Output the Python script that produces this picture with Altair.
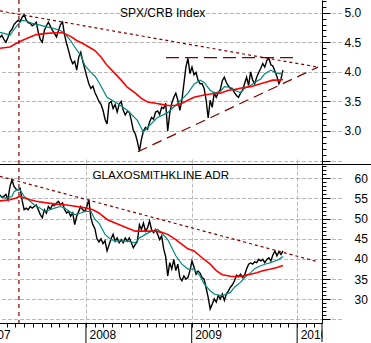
import altair as alt
import pandas as pd

START = "2007-03-09"          # first weekly observation
FONT = "Liberation Sans"

# ---- SPX/CRB ratio, weekly from START ----
spx_price = [4.58, 4.62, 4.55, 4.50, 4.58, 4.68, 4.72, 4.80, 4.84, 4.87,
             4.85, 4.92, 4.97, 4.88, 4.83, 4.82, 4.78, 4.80, 4.84, 4.67,
             4.55, 4.50, 4.70, 4.78, 4.84, 4.77, 4.70, 4.65, 4.59, 4.70,
             4.80, 4.84, 4.62, 4.48, 4.36, 4.22, 4.14, 4.18, 4.03, 4.25,
             4.33, 4.18, 4.05, 3.92, 3.80, 3.72, 3.76, 3.65, 3.58, 3.50,
             3.45, 3.35, 3.20, 3.12, 3.47, 3.50, 3.38, 3.45, 3.32, 3.45,
             3.50, 3.35, 3.27, 3.33, 3.32, 3.18, 3.01, 2.95, 2.82, 2.66,
             2.86, 3.00, 3.06, 3.03, 3.15, 3.23, 3.20, 3.32, 3.34, 3.28,
             3.40, 3.38, 3.47, 3.00, 3.30, 3.47, 3.57, 3.64, 3.52, 3.35,
             3.52, 3.80, 4.08, 4.23, 3.97, 4.08, 3.95, 3.99, 3.86, 3.80,
             3.80, 3.72, 3.52, 3.22, 3.52, 3.40, 3.64, 3.57, 3.65, 3.70,
             3.85, 3.91, 3.82, 3.76, 3.72, 3.72, 3.65, 3.60, 3.57, 3.64,
             3.69, 3.80, 3.91, 3.77, 4.00, 3.86, 3.80, 3.91, 3.99, 4.06,
             4.14, 4.08, 4.19, 4.23, 4.12, 4.10, 4.01, 3.92, 3.80, 3.88,
             4.03]
spx_fast_wk = [0, 2, 5, 6, 8, 10, 11, 13, 16, 20, 23, 26, 30, 32, 35, 37, 40, 42, 45, 47,
               49, 53, 58, 63, 68, 71, 73, 78, 83, 88, 93, 96, 99, 101, 104, 106, 109, 111, 114, 116,
               119, 121, 124, 126, 129, 131, 134, 136, 138, 140]
spx_fast = [4.67, 4.65, 4.62, 4.67, 4.76, 4.84, 4.87, 4.86, 4.82, 4.79, 4.76, 4.74, 4.70, 4.65, 4.53, 4.42, 4.28, 4.11, 3.99, 3.93,
            3.82, 3.57, 3.47, 3.35, 3.18, 2.98, 3.06, 3.23, 3.31, 3.47, 3.64, 3.79, 3.86, 3.82, 3.69, 3.64, 3.67, 3.75, 3.74, 3.69,
            3.65, 3.72, 3.77, 3.82, 3.88, 3.97, 4.03, 3.99, 3.97, 3.97]
spx_slow_wk = [0, 5, 8, 11, 15, 18, 23, 28, 31, 35, 38, 41, 45, 47, 50, 53, 57, 60, 63, 67,
               70, 73, 77, 80, 83, 87, 90, 93, 96, 101, 105, 109, 113, 116, 120, 124, 128, 131, 135, 138, 140]
spx_slow = [4.40, 4.42, 4.48, 4.53, 4.59, 4.63, 4.65, 4.66, 4.66, 4.60, 4.53, 4.48, 4.40, 4.36, 4.25, 4.11, 3.97, 3.86, 3.74, 3.64,
            3.55, 3.49, 3.47, 3.45, 3.43, 3.43, 3.47, 3.52, 3.57, 3.61, 3.63, 3.64, 3.69, 3.70, 3.73, 3.75, 3.79, 3.82, 3.86, 3.86, 3.87]

# ---- GlaxoSmithKline ADR, weekly from START ----
gsk_price = [55.9, 55.3, 55.6, 56.0, 54.7, 58.0, 59.6, 58.0, 57.3, 57.1,
             57.5, 54.5, 52.2, 52.6, 52.2, 53.0, 52.6, 53.0, 53.4, 52.2,
             51.0, 50.2, 52.2, 51.4, 53.0, 52.4, 53.4, 53.2, 53.9, 54.3,
             53.4, 53.9, 52.2, 51.4, 51.8, 50.6, 51.4, 48.5, 50.6, 51.8,
             53.0, 52.2, 51.8, 53.0, 54.7, 50.2, 48.5, 47.5, 45.0, 44.2,
             45.0, 43.8, 44.5, 42.0, 43.5, 45.0, 46.1, 44.4, 45.2, 44.0,
             44.8, 44.0, 45.2, 44.4, 45.2, 44.0, 42.8, 43.6, 44.4, 48.5,
             47.3, 48.9, 46.9, 47.7, 49.4, 47.3, 46.5, 47.3, 46.1, 44.8,
             45.7, 42.5, 40.5, 35.8, 39.1, 37.5, 39.9, 37.1, 38.7, 35.4,
             34.6, 35.8, 35.0, 35.4, 37.1, 39.5, 38.0, 36.2, 37.0, 36.5,
             35.4, 35.0, 32.8, 30.5, 27.6, 28.8, 30.1, 29.3, 30.9, 30.1,
             31.3, 29.7, 31.3, 32.1, 33.0, 33.6, 34.6, 36.0, 35.6, 36.2,
             35.4, 36.0, 37.5, 38.7, 39.0, 38.7, 39.3, 39.1, 39.9, 39.5,
             39.9, 39.1, 39.9, 40.3, 39.5, 41.0, 42.0, 40.8, 41.8, 41.1,
             42.0]
gsk_fast_wk = [0, 3, 6, 7, 9, 10, 12, 15, 17, 20, 22, 25, 27, 30, 32, 35, 37, 40, 42, 45,
               47, 49, 52, 55, 58, 63, 67, 69, 72, 75, 78, 80, 83, 87, 90, 93, 96, 99, 101, 104,
               106, 109, 111, 114, 116, 119, 121, 124, 126, 129, 131, 134, 136, 138, 140]
gsk_fast = [55.5, 55.1, 55.5, 56.7, 57.3, 57.1, 55.5, 54.3, 53.4, 52.6, 51.8, 52.2, 52.6, 53.0, 52.6, 51.6, 51.0, 51.4, 51.8, 51.8,
            49.8, 48.9, 46.1, 44.8, 44.4, 44.4, 44.0, 45.2, 46.1, 46.9, 47.3, 46.5, 44.8, 40.8, 38.7, 37.5, 37.5, 35.8, 33.8, 32.1,
            31.3, 30.9, 31.1, 31.7, 33.0, 34.2, 35.4, 36.6, 37.6, 38.3, 38.7, 39.1, 39.5, 39.9, 40.6]
gsk_slow_wk = [0, 5, 8, 10, 11, 15, 18, 23, 28, 33, 38, 43, 46, 49, 53, 57, 60, 63, 67, 70,
               73, 77, 80, 83, 87, 90, 93, 96, 100, 104, 107, 110, 114, 117, 120, 124, 127, 130, 134, 137, 140]
gsk_slow = [54.4, 54.7, 55.1, 55.5, 55.3, 54.7, 54.3, 53.9, 53.6, 53.4, 53.0, 52.6, 52.2, 51.4, 49.8, 48.9, 48.3, 47.7, 46.9, 46.9,
            46.9, 46.9, 46.6, 46.1, 44.8, 43.6, 42.5, 42.0, 40.3, 38.7, 37.1, 36.1, 35.7, 35.6, 35.8, 36.2, 36.6, 37.1, 37.5, 37.9, 38.4]

# ---- trend lines and markers ----
spx_down_dates, spx_down_vals = ["2007-03-09", "2010-03-14"], [5.03, 4.08]
spx_up_dates, spx_up_vals = ["2008-06-29", "2010-03-14"], [2.65, 4.08]
spx_flat_dates, spx_flat_vals = ["2008-10-04", "2009-12-28"], [4.24, 4.24]
gsk_down_dates, gsk_down_vals = ["2007-03-09", "2010-03-14"], [60.5, 39.3]
event_dates = ["2007-05-14"]
year_starts = ["2007-01-01", "2008-01-01", "2009-01-01", "2010-01-01"]
titles = ["SPX/CRB Index", "GLAXOSMITHKLINE ADR"]

spx_ticks = [round(2.5 + 0.1 * i, 1) for i in range(28)]
gsk_ticks = list(range(25, 64))
month_ticks = [alt.DateTime(year=y, month=m, date=1, utc=True)
               for y in range(2007, 2011) for m in range(1, 13) if (y, m) <= (2010, 3)]


def wk_dates(weeks):
    base = pd.Timestamp(START)
    return [(base + pd.Timedelta(days=7 * w)).strftime("%Y-%m-%d") for w in weeks]


def frame(dates, vals):
    return pd.DataFrame({"date": dates, "v": vals})


GRID = "#b8b8b8"
xscale = alt.Scale(type="utc",
                   domain=[alt.DateTime(year=2007, month=1, date=1, utc=True),
                           alt.DateTime(year=2010, month=3, date=28, utc=True)],
                   range=[-19.5, 322], nice=False)
xaxis = alt.Axis(values=month_ticks, tickSize=4, tickColor="black", domainColor="black",
                 labelExpr="utcmonth(datum.value) == 0 ? utcFormat(datum.value, '%Y') : ''",
                 labelAlign="left", labelBaseline="top", labelPadding=2, labelOffset=3,
                 labelFont=FONT, labelFontSize=12, labelColor="black",
                 labelFlush=False, labelOverlap=False,
                 grid=True, gridColor=GRID, gridDash=[4, 2],
                 gridOpacity={"condition": {"test": "utcmonth(datum.value) == 0", "value": 1}, "value": 0},
                 title=None, zindex=0)


def X():
    return alt.X("date:T", scale=xscale, axis=xaxis, title=None)


top_scale = alt.Scale(domain=[2.442, 5.215], range=[164, 0], nice=False, zero=False)
bot_scale = alt.Scale(domain=[24.12, 63.3], range=[323, 165], nice=False, zero=False)

top_major = "abs(datum.value * 2 - round(datum.value * 2)) < 0.01"
bot_major = "datum.value % 5 == 0"
top_axis = alt.Axis(orient="right", values=spx_ticks, title=None,
                    tickSize={"condition": {"test": top_major, "value": 8}, "value": 4},
                    tickColor="black", domainColor="black",
                    labelExpr="(" + top_major + ") && datum.value > 2.7 ? format(datum.value, '.1f') : ''",
                    labelAlign="left", labelBaseline="middle", labelPadding=14,
                    labelFont=FONT, labelFontSize=12, labelColor="black",
                    labelOverlap=False, labelFlush=False,
                    grid=True, gridColor=GRID, gridDash=[4, 2],
                    gridOpacity={"condition": {"test": top_major, "value": 1}, "value": 0},
                    zindex=0)
bot_axis = alt.Axis(orient="right", values=gsk_ticks, title=None,
                    tickSize={"condition": {"test": bot_major, "value": 8}, "value": 4},
                    tickColor="black", domainColor="black",
                    labelExpr="(" + bot_major + ") && datum.value > 27 ? format(datum.value, 'd') : ''",
                    labelAlign="left", labelBaseline="middle", labelPadding=24,
                    labelFont=FONT, labelFontSize=12, labelColor="black",
                    labelOverlap=False, labelFlush=False,
                    grid=True, gridColor=GRID, gridDash=[4, 2],
                    gridOpacity={"condition": {"test": bot_major, "value": 1}, "value": 0},
                    zindex=0)


def line(df, scale, color, width, dash=None, axis=None):
    kw = dict(color=color, strokeWidth=width)
    if dash is not None:
        kw["strokeDash"] = dash
    return alt.Chart(df).mark_line(**kw).encode(
        x=X(), y=alt.Y("v:Q", scale=scale, axis=axis, title=None))


DARKRED = "#800000"
layers = [
    line(frame(wk_dates(range(len(spx_price))), spx_price), top_scale, "black", 1.4, axis=top_axis),
    line(frame(wk_dates(spx_fast_wk), spx_fast), top_scale, "#00897b", 1.2),
    line(frame(wk_dates(spx_slow_wk), spx_slow), top_scale, "#ff0000", 1.6),
    line(frame(spx_down_dates, spx_down_vals), top_scale, DARKRED, 1.2, dash=[3, 3]),
    line(frame(spx_up_dates, spx_up_vals), top_scale, DARKRED, 1.2, dash=[10, 6]),
    line(frame(spx_flat_dates, spx_flat_vals), top_scale, DARKRED, 1.3, dash=[13, 6]),
    line(frame(wk_dates(range(len(gsk_price))), gsk_price), bot_scale, "black", 1.4, axis=bot_axis),
    line(frame(wk_dates(gsk_fast_wk), gsk_fast), bot_scale, "#00897b", 1.2),
    line(frame(wk_dates(gsk_slow_wk), gsk_slow), bot_scale, "#ff0000", 1.6),
    line(frame(gsk_down_dates, gsk_down_vals), bot_scale, DARKRED, 1.2, dash=[3, 3]),
]

one = pd.DataFrame({"k": [0]})
event = alt.Chart(pd.DataFrame({"date": event_dates})).mark_rule(
    color=DARKRED, strokeDash=[4, 4], strokeWidth=1.2).encode(
    x=X(), y=alt.value(0), y2=alt.value(323))
separator = alt.Chart(one).mark_rule(color="black", strokeWidth=1).encode(
    x=alt.value(0), x2=alt.value(371), y=alt.value(164.5))
cover = alt.Chart(one).mark_rect(color="white").encode(
    x=alt.value(322.5), x2=alt.value(371), y=alt.value(324), y2=alt.value(343))
year_ticks = alt.Chart(pd.DataFrame({"date": year_starts})).mark_rule(
    color="black", strokeWidth=1).encode(x=X(), y=alt.value(323), y2=alt.value(343))
end_bar = alt.Chart(one).mark_rule(color="black", strokeWidth=1).encode(
    x=alt.value(322), y=alt.value(323), y2=alt.value(342))
title_top = alt.Chart(pd.DataFrame({"t": [titles[0]]})).mark_text(
    align="left", baseline="alphabetic", font=FONT, fontSize=12, color="black").encode(
    x=alt.value(120), y=alt.value(17), text="t:N")
title_bot = alt.Chart(pd.DataFrame({"t": [titles[1]]})).mark_text(
    align="left", baseline="alphabetic", font=FONT, fontSize=11.6, color="black").encode(
    x=alt.value(92.5), y=alt.value(179), text="t:N")

chart = alt.layer(
    *layers, event, separator, cover, year_ticks, end_bar, title_top, title_bot
).resolve_scale(y="independent").resolve_axis(y="independent").properties(
    width=322, height=323,
    autosize=alt.AutoSizeParams(type="none"),
    padding={"left": 0, "top": 0, "right": 49, "bottom": 20},
    background="white",
).configure_view(stroke=None)

chart.save("out.html", embed_options={"renderer": "svg", "actions": False})
